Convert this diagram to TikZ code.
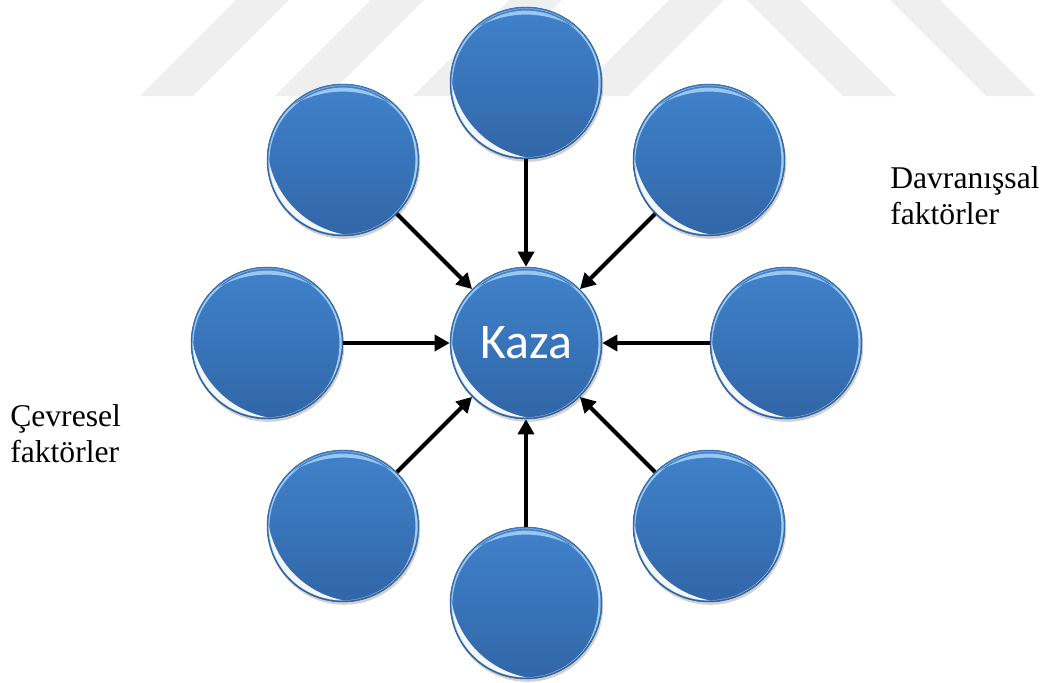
\documentclass[tikz,border=0pt]{standalone}
\usepackage{fontspec}
\setmainfont{Liberation Serif}
\newfontfamily\kazafont{Carlito}
\usetikzlibrary{arrows.meta,positioning,shadows}
\definecolor{balltop}{RGB}{64,130,203}
\definecolor{ballbot}{RGB}{49,102,167}
\definecolor{ballrim}{RGB}{170,212,248}
\definecolor{wmgray}{RGB}{239,239,239}

\tikzset{
  ball/.style={circle, minimum size=3.8cm, inner sep=0pt,
    top color=balltop, bottom color=ballbot, draw=ballbot!80!black, line width=0.3pt,
    drop shadow={shadow xshift=0.03cm, shadow yshift=-0.07cm, opacity=0.18, fill=black},
    path picture={
      \coordinate (pc) at (path picture bounding box.center);
      \begin{scope}
        \clip (pc) circle (1.86);
        \fill[white, opacity=0.95, even odd rule] (pc) circle (1.86) ([shift={(0.45,0.45)}]pc) circle (2.35);
        \fill[white, opacity=0.35, even odd rule] (pc) circle (1.86) ([shift={(0.22,0.22)}]pc) circle (2.14);
        \fill[ballrim, opacity=0.85, even odd rule] ([shift={(0,-0.03)}]pc) circle (1.84) ([shift={(0,-0.78)}]pc) circle (2.49);
        \fill[ballrim, opacity=0.9, even odd rule] (pc) circle (1.86) ([shift={(-0.28,0)}]pc) circle (2.09);
      \end{scope}
    }},
  toball/.style={-{Triangle[length=3.8mm,width=4mm]}, line width=3pt},
  factor/.style={align=left, anchor=base west, inner sep=0pt, font=\fontsize{22.5}{25.5}\selectfont},
  band/.style={fill=wmgray}
}

\begin{document}
\begin{tikzpicture}
\useasboundingbox (-13.15,-8.475) rectangle (12.975,8.575);

\fill[band] (-9.65,6.175) -- (-8.325,6.175) -- (-5.925,8.575) -- (-7.25,8.575) -- cycle;
\fill[band] (-6.275,6.175) -- (-4.95,6.175) -- (-2.55,8.575) -- (-3.875,8.575) -- cycle;
\fill[band] (-2.825,6.175) -- (-1.5,6.175) -- (0.9,8.575) -- (-0.425,8.575) -- cycle;
\fill[band] (1.175,6.175) -- (2.55,6.175) -- (4.95,8.575) -- (3.575,8.575) -- cycle;
\fill[band] (5.525,8.575) -- (6.85,8.575) -- (9.25,6.175) -- (7.925,6.175) -- cycle;
\fill[band] (9.1,8.575) -- (10.35,8.575) -- (12.75,6.175) -- (11.5,6.175) -- cycle;

\node[ball] (kaza) at (0,0) {\kazafont\fontsize{35.5}{40}\selectfont\color{white}Kaza};
\node[ball] (n) at (0,6.5) {};
\node[ball] (ne) at (4.575,4.575) {};
\node[ball] (e) at (6.5,0) {};
\node[ball] (se) at (4.575,-4.575) {};
\node[ball] (s) at (0,-6.5) {};
\node[ball] (sw) at (-4.575,-4.575) {};
\node[ball] (w) at (-6.475,0) {};
\node[ball] (nw) at (-4.575,4.575) {};

\draw[toball] (n) -- (kaza);
\draw[toball] (ne) -- (kaza);
\draw[toball] (e) -- (kaza);
\draw[toball] (se) -- (kaza);
\draw[toball] (s) -- (kaza);
\draw[toball] (sw) -- (kaza);
\draw[toball] (w) -- (kaza);
\draw[toball] (nw) -- (kaza);

\node[factor] (davr) at (9.1,2.975) {Davranışsal\\faktörler};
\node[factor] (cevr) at (-12.9,-2.975) {Çevresel\\faktörler};
\end{tikzpicture}
\end{document}
